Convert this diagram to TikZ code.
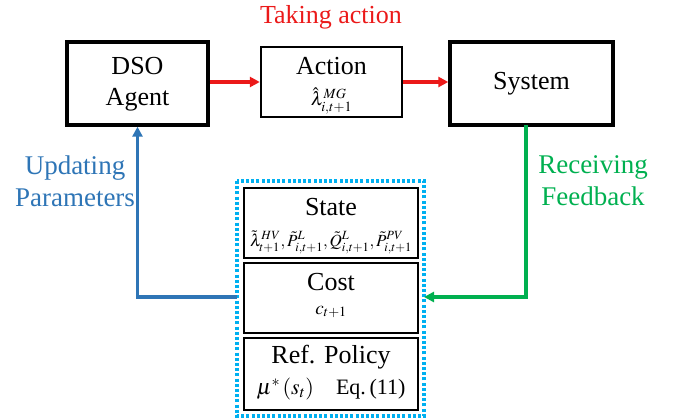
\documentclass[tikz,border=0pt]{standalone}
\usepackage{mathptmx}
\usepackage[no-math]{fontspec}
\setmainfont{Liberation Serif}
\usetikzlibrary{arrows.meta}
\definecolor{actred}{RGB}{235,25,25}
\definecolor{updblue}{RGB}{46,117,182}
\definecolor{fbgreen}{RGB}{0,176,80}
\definecolor{dotblue}{RGB}{0,176,240}
\tikzset{
  bigbox/.style={draw=black, line width=3.4pt, minimum width=141pt, minimum height=83pt, inner sep=0pt},
  midbox/.style={draw=black, line width=2.4pt, minimum width=141pt, minimum height=70pt, inner sep=0pt},
  smallbox/.style={draw=black, line width=2.4pt, minimum width=174pt, minimum height=70pt, inner sep=0pt},
  lbl/.style={font=\fontsize{26}{29}\selectfont, inner sep=0pt},
  mlbl/.style={font=\fontsize{19}{22}\selectfont, inner sep=0pt},
  tip/.style={-{Triangle[length=10pt,width=10pt]}},
  conn/.style={line width=3.4pt, tip},
}
\begin{document}
\begin{tikzpicture}[x=1pt,y=-1pt]
\useasboundingbox (0,0) rectangle (675,419);
% main boxes
\node[bigbox] (dso) at (137.5,83.5) {};
\node[lbl] (dsot) at (137.5,66) {DSO};
\node[lbl] (dsob) at (137.5,100) {Agent};
\node[midbox] (act) at (331.5,82) {};
\node[lbl] (actt) at (331.5,66) {Action};
\node[mlbl] (actm) at (331.5,101) {$\hat{\lambda}_{i,t+1}^{MG}$};
\node[bigbox, lbl, minimum width=163pt, minimum height=83pt] (sys) at (531.5,83.5) {System};
% top label
\node[lbl, text=actred] (take) at (331,17) {Taking action};
% dotted container
\draw[dotblue, line width=3.2pt, dash pattern=on 3pt off 2.2pt] (237,181) rectangle (424,416);
\coordinate (dotL) at (237,297);
\coordinate (dotR) at (424,297);
% inner boxes
\node[smallbox] (state) at (331,223) {};
\node[lbl] (statet) at (331,207) {State};
\node[mlbl, font=\fontsize{17}{20}\selectfont] (statem) at (331,242) {$\tilde{\lambda}_{t+1}^{HV},\tilde{P}_{i,t+1}^{L},\tilde{Q}_{i,t+1}^{L},\tilde{P}_{i,t+1}^{PV}$};
\node[smallbox] (cost) at (331,298) {};
\node[lbl] (costt) at (331,282) {Cost};
\node[mlbl] (costm) at (331,312) {$c_{t+1}$};
\node[smallbox, minimum height=72pt] (ref) at (331,374) {};
\node[lbl] (reft) at (331,357) {Ref. Policy};
\node[lbl, font=\fontsize{22}{25}\selectfont] (refm) at (331,389) {$\mu^{*}\left(s_{t}\right)$\quad Eq.\,(11)};
% arrows
\draw[actred, conn] (dso.east |- act.west) -- (act.west);
\draw[actred, conn] (act.east) -- (sys.west |- act.east);
\coordinate (bcorner) at (137.5,297);
\draw[updblue, conn] (dotL) -- (bcorner) -- (dso.south);
\coordinate (gtop) at (526,125);
\coordinate (gcorner) at (526,297);
\draw[fbgreen, conn] (gtop) -- (gcorner) -- (dotR);
% side labels
\node[lbl, text=updblue, align=center, font=\fontsize{27}{32}\selectfont] (upd) at (75,181) {Updating\\Parameters};
\node[lbl, text=fbgreen, align=center, font=\fontsize{27}{32}\selectfont] (fb) at (593,181) {Receiving\\Feedback};
\end{tikzpicture}
\end{document}
